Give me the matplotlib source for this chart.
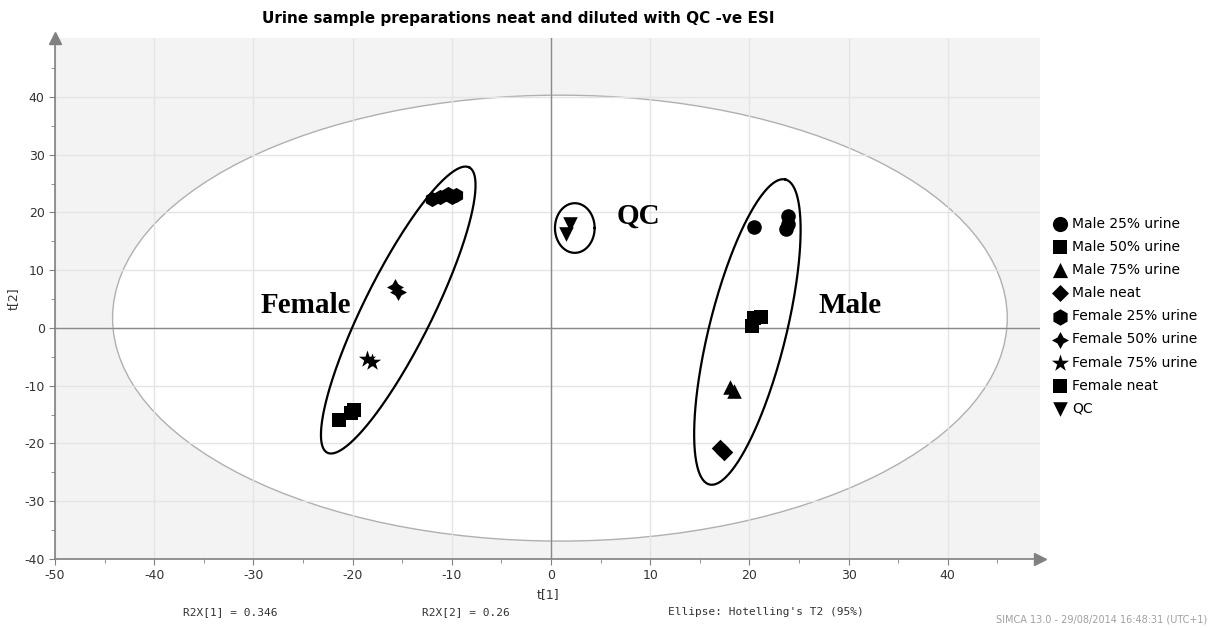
import numpy as np
import matplotlib
matplotlib.use('Agg')
from matplotlib import pyplot as plt
from matplotlib.patches import Ellipse

plt.rcParams['axes.unicode_minus'] = False

# score values t[1], t[2]
male25_t1 = [20.5, 23.9, 23.9, 23.7]
male25_t2 = [17.5, 19.4, 18.0, 17.2]
male50_t1 = [20.5, 21.2, 20.3]
male50_t2 = [1.8, 1.9, 0.4]
male75_t1 = [18.0, 18.5]
male75_t2 = [-10.3, -10.9]
maleneat_t1 = [17.0, 17.4]
maleneat_t2 = [-20.8, -21.4]
fem25_t1 = [-12.0, -11.2, -10.4, -9.6, -10.0]
fem25_t2 = [22.3, 22.7, 23.2, 23.0, 22.6]
fem50_t1 = [-15.7, -15.4]
fem50_t2 = [7.1, 6.2]
fem75_t1 = [-18.5, -18.0]
fem75_t2 = [-5.4, -5.9]
femneat_t1 = [-21.4, -20.2, -19.9]
femneat_t2 = [-15.9, -14.8, -14.2]
qc_t1 = [1.9, 1.5]
qc_t2 = [18.0, 16.3]

labels = ['Male 25% urine', 'Male 50% urine', 'Male 75% urine', 'Male neat',
          'Female 25% urine', 'Female 50% urine', 'Female 75% urine',
          'Female neat', 'QC']
markers = ['o', 's', '^', 'D', 'h', (4, 1, 0), '*', 's', 'v']
sizes = [110, 110, 110, 80, 120, 150, 170, 110, 110]
leg_sizes = [120, 110, 120, 75, 140, 150, 170, 110, 110]

# Hotelling T2 ellipse (center, semi-axes)
hot_center = (0.9, 1.7)
hot_semi = (45.1, 38.6)
# hand drawn group ellipses: center, conjugate semi-axis vectors (data units)
grp_center = [(-15.4, 3.1), (19.8, -0.7), (2.4, 17.3)]
grp_u = [(7.15, 24.7), (3.83, 26.4), (2.0, 0.0)]
grp_v = [(3.1, -2.65), (3.76, -1.62), (0.0, 4.3)]
grp_names = ['Female', 'Male', 'QC']
grp_label_pos = [(-24.7, 3.8), (30.2, 3.8), (8.8, 19.4)]

xs = [male25_t1, male50_t1, male75_t1, maleneat_t1, fem25_t1, fem50_t1,
      fem75_t1, femneat_t1, qc_t1]
ys = [male25_t2, male50_t2, male75_t2, maleneat_t2, fem25_t2, fem50_t2,
      fem75_t2, femneat_t2, qc_t2]

fig = plt.figure(figsize=(12.1, 6.28), dpi=100)
ax = fig.add_axes([0.0455, 0.1099, 0.8140, 0.8296])
ax.set_facecolor('#f3f3f3')
ax.set_xlim(-50, 49.3)
ax.set_ylim(-40, 50.2)

ax.set_xticks(np.arange(-50, 41, 10))
ax.set_xticks(np.arange(-45, 49, 5), minor=True)
ax.set_yticks(np.arange(-40, 41, 10))
ax.set_yticks(np.arange(-35, 50, 5), minor=True)
ax.grid(True, which='major', color='#e4e4e4', lw=1)
ax.set_axisbelow(True)
ax.tick_params(which='both', direction='out', color='#808080', labelsize=9,
               labelcolor='#333333')
ax.tick_params(which='major', length=4)
ax.tick_params(which='minor', length=3)

for s in ['top', 'right']:
    ax.spines[s].set_visible(False)
for s in ['left', 'bottom']:
    ax.spines[s].set_color('#808080')
    ax.spines[s].set_linewidth(1.2)
ax.plot(1, 0, '>', color='#808080', ms=9, transform=ax.transAxes, clip_on=False)
ax.plot(0, 1, '^', color='#808080', ms=9, transform=ax.transAxes, clip_on=False)

# white Hotelling ellipse
ax.add_patch(Ellipse(hot_center, 2 * hot_semi[0], 2 * hot_semi[1],
                     facecolor='white', edgecolor='#b0b0b0', lw=1, zorder=0.2))
ax.axhline(0, color='#8a8a8a', lw=1, zorder=1)
ax.axvline(0, color='#8a8a8a', lw=1, zorder=1)

t = np.linspace(0, 2 * np.pi, 300)
for c, u, v in zip(grp_center, grp_u, grp_v):
    ex = c[0] + u[0] * np.cos(t) + v[0] * np.sin(t)
    ey = c[1] + u[1] * np.cos(t) + v[1] * np.sin(t)
    ax.plot(ex, ey, color='black', lw=1.6, zorder=3)

for name, pos in zip(grp_names, grp_label_pos):
    ax.text(pos[0], pos[1], name, family='Liberation Serif', weight='bold',
            fontsize=21, ha='center', va='center', zorder=4)

for x, y, m, sz, lab in zip(xs, ys, markers, sizes, labels):
    ax.scatter(x, y, marker=m, s=sz, color='black', label=lab, zorder=5,
               linewidths=0)

leg = ax.legend(loc='upper left', bbox_to_anchor=(1.003, 0.676), frameon=False,
                fontsize=10, handlelength=1.0, handletextpad=0.4,
                labelspacing=0.66, borderaxespad=0.3)
for h, sz in zip(leg.legend_handles, leg_sizes):
    h.set_sizes([sz])

ax.set_xlabel('t[1]', fontsize=9, color='#333333', labelpad=4)
ax.set_ylabel('t[2]', fontsize=9, color='#333333')
ax.yaxis.set_label_coords(-0.036, 0.5)
fig.text(0.428, 0.97, 'Urine sample preparations neat and diluted with QC -ve ESI',
         ha='center', va='center', fontsize=11, weight='bold')

fig.text(0.19, 0.021, 'R2X[1] = 0.346', family='DejaVu Sans Mono', fontsize=8,
         ha='center', color='#333333')
fig.text(0.385, 0.021, 'R2X[2] = 0.26', family='DejaVu Sans Mono', fontsize=8,
         ha='center', color='#333333')
fig.text(0.633, 0.021, "Ellipse: Hotelling's T2 (95%)", family='DejaVu Sans Mono',
         fontsize=8, ha='center', color='#333333')
fig.text(0.998, 0.008, 'SIMCA 13.0 - 29/08/2014 16:48:31 (UTC+1)', fontsize=7,
         ha='right', color='#a0a0a0')

fig.savefig('out.png', dpi=100)
